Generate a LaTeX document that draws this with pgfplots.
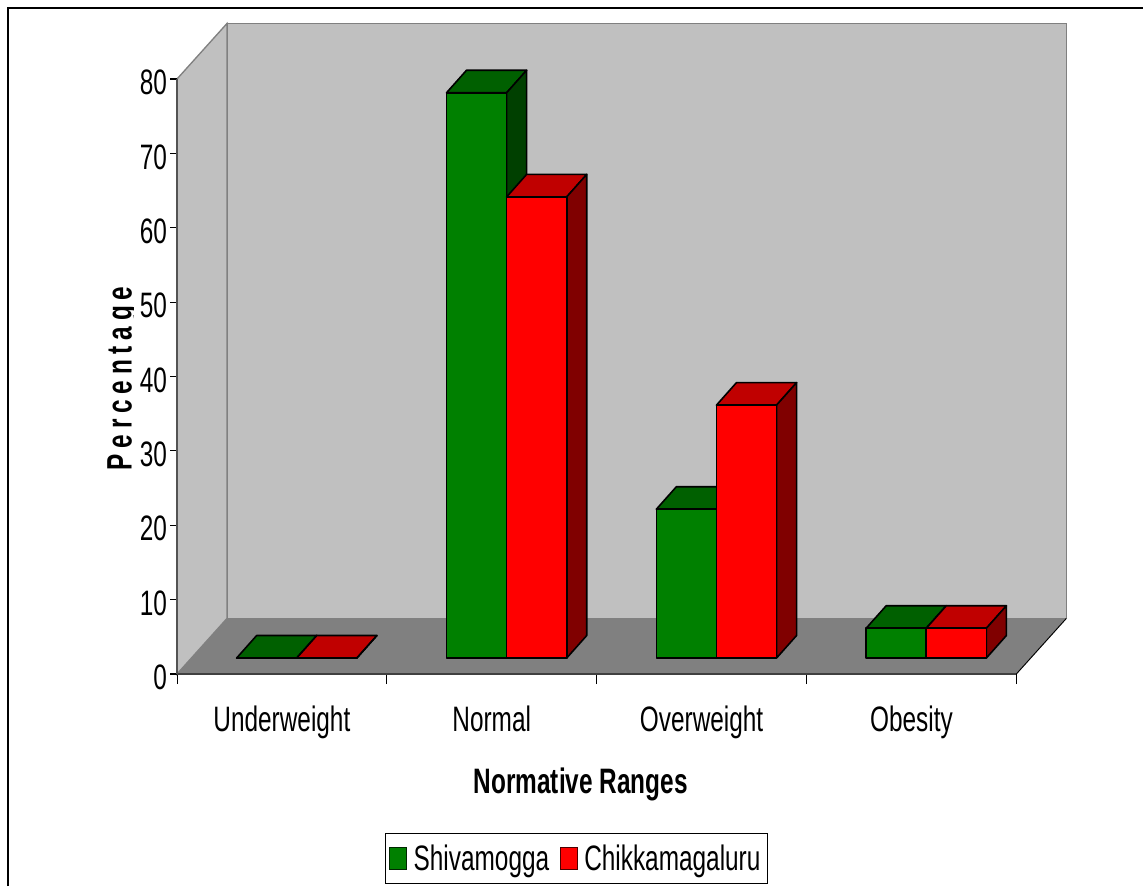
\documentclass[border=0pt]{standalone}
\usepackage{fontspec}
\setmainfont[FakeStretch=0.69]{Liberation Sans}
\usepackage{pgfplots}
\pgfplotsset{compat=1.18}

\definecolor{wall}{HTML}{C0C0C0}
\definecolor{floorgray}{HTML}{808080}
\definecolor{axisdark}{HTML}{404040}
\definecolor{grnF}{HTML}{008000}
\definecolor{grnT}{HTML}{006000}
\definecolor{grnS}{HTML}{004000}
\definecolor{redF}{HTML}{FF0000}
\definecolor{redT}{HTML}{C00000}
\definecolor{redS}{HTML}{800000}

\newcommand{\chartfont}{\fontsize{26.5}{30}\selectfont}

% Depth of the chart box and of the bars, in data units (x: categories, y: percent)
\def\wallDx{0.238}
\def\wallDy{7.462}
\def\barOy{2.151}
\def\barDx{0.0955}
\def\barDy{3.03}
\def\barW{0.2865}

% One 3-D column: left edge in category units, value, three face colours
\newcommand{\cube}[5]{%
  \pgfmathsetmacro{\xa}{#1}%
  \pgfmathsetmacro{\xb}{#1+\barW}%
  \pgfmathsetmacro{\xc}{#1+\barW+\barDx}%
  \pgfmathsetmacro{\xd}{#1+\barDx}%
  \pgfmathsetmacro{\ya}{\barOy}%
  \pgfmathsetmacro{\yb}{\barOy+#2}%
  \pgfmathsetmacro{\yc}{\barOy+#2+\barDy}%
  \pgfmathsetmacro{\yd}{\barOy+\barDy}%
  \addplot[forget plot,fill=#4,draw=black,line width=1.2pt,line join=round]
    coordinates {(\xa,\yb) (\xb,\yb) (\xc,\yc) (\xd,\yc)} --cycle;
  \addplot[forget plot,fill=#5,draw=black,line width=1.2pt,line join=round]
    coordinates {(\xb,\ya) (\xc,\yd) (\xc,\yc) (\xb,\yb)} --cycle;
  \addplot[forget plot,fill=#3,draw=black,line width=1.2pt,line join=round]
    coordinates {(\xa,\ya) (\xb,\ya) (\xb,\yb) (\xa,\yb)} --cycle;
}

\begin{document}
\begin{tikzpicture}[x=0.75pt,y=0.75pt]
\path[use as bounding box] (0,0) rectangle (1143,-886);
\draw[black,line width=1.5pt] (8,-886) -- (8,-7.5) -- (1143,-7.5);

\begin{axis}[
  at={(132.75pt,-505.5pt)}, anchor=origin,
  scale only axis, width=629.5pt, height=446.25pt,
  xmin=0, xmax=4, ymin=0, ymax=80,
  clip=false, axis on top,
  axis lines*=left, axis line style={-},
  x axis line style={axisdark,line width=1.6pt},
  y axis line style={axisdark!90,line width=1.6pt},
  ytick={0,10,...,80},
  xtick={0.5,1.5,2.5,3.5},
  xticklabels={Underweight,Normal,Overweight,Obesity},
  minor xtick={0,1,2,3,4},
  major x tick style={draw=none},
  minor x tick style={black,line width=0.6pt},
  major y tick style={black,line width=0.8pt},
  tick align=outside,
  major tick length=5.25pt, minor tick length=7.5pt,
  tick label style={font=\chartfont},
  y tick label style={/pgf/number format/assume math mode=true,xshift=1.2pt,yshift=-2.6pt},
  x tick label style={yshift=-15pt},
  xlabel={\bfseries Normative Ranges},
  xlabel style={font=\chartfont,at={(axis description cs:0.481,-0.2005)},anchor=base},
  legend style={at={(0.4756,-0.310)},anchor=center,legend columns=2,
    draw=black,line width=0.6pt,font=\chartfont,
    inner xsep=3pt,inner ysep=6.5pt,
    /tikz/every odd column/.append style={column sep=3pt},
    /tikz/every even column/.append style={column sep=6pt}},
  legend image code/.code={
    \draw[#1,line width=0.8pt] (0pt,-8.2pt) rectangle (12.5pt,8.2pt);
  },
]
% Chart box: back wall, side wall, floor
\addplot[forget plot,fill=wall,draw=floorgray,line width=1pt]
  coordinates {(\wallDx,\wallDy) (4+\wallDx,\wallDy) (4+\wallDx,80+\wallDy) (\wallDx,80+\wallDy)} --cycle;
\addplot[forget plot,fill=wall,draw=floorgray,line width=1pt]
  coordinates {(0,0) (\wallDx,\wallDy) (\wallDx,80+\wallDy) (0,80)} --cycle;
\addplot[forget plot,fill=floorgray,draw=none]
  coordinates {(0,0) (4,0) (4+\wallDx,\wallDy) (\wallDx,\wallDy)} --cycle;
\addplot[forget plot,draw=black,line width=0.7pt]
  coordinates {(4,0) (4+\wallDx,\wallDy)};

% Columns, by category: Shivamogga then Chikkamagaluru
\cube{0.2843}{0}{grnF}{grnT}{grnS}
\cube{0.5708}{0}{redF}{redT}{redS}
\cube{1.2843}{76}{grnF}{grnT}{grnS}
\cube{1.5708}{62}{redF}{redT}{redS}
\cube{2.2843}{20}{grnF}{grnT}{grnS}
\cube{2.5708}{34}{redF}{redT}{redS}
\cube{3.2843}{4}{grnF}{grnT}{grnS}
\cube{3.5708}{4}{redF}{redT}{redS}

\addlegendimage{fill=grnF,draw=black!70!grnF}
\addlegendentry{Shivamogga}
\addlegendimage{fill=redF,draw=black!70!redF}
\addlegendentry{Chikkamagaluru}
\end{axis}

% Spaced vertical axis title, trimmed along its baseline
\begin{scope}
\clip (95,-275) rectangle (133,-480);
\node[rotate=90,anchor=base,inner sep=0pt,font=\chartfont] at (131.5,-378.5)
  {\addfontfeatures{LetterSpace=16.5}\bfseries Percentage};
\end{scope}
\end{tikzpicture}
\end{document}
